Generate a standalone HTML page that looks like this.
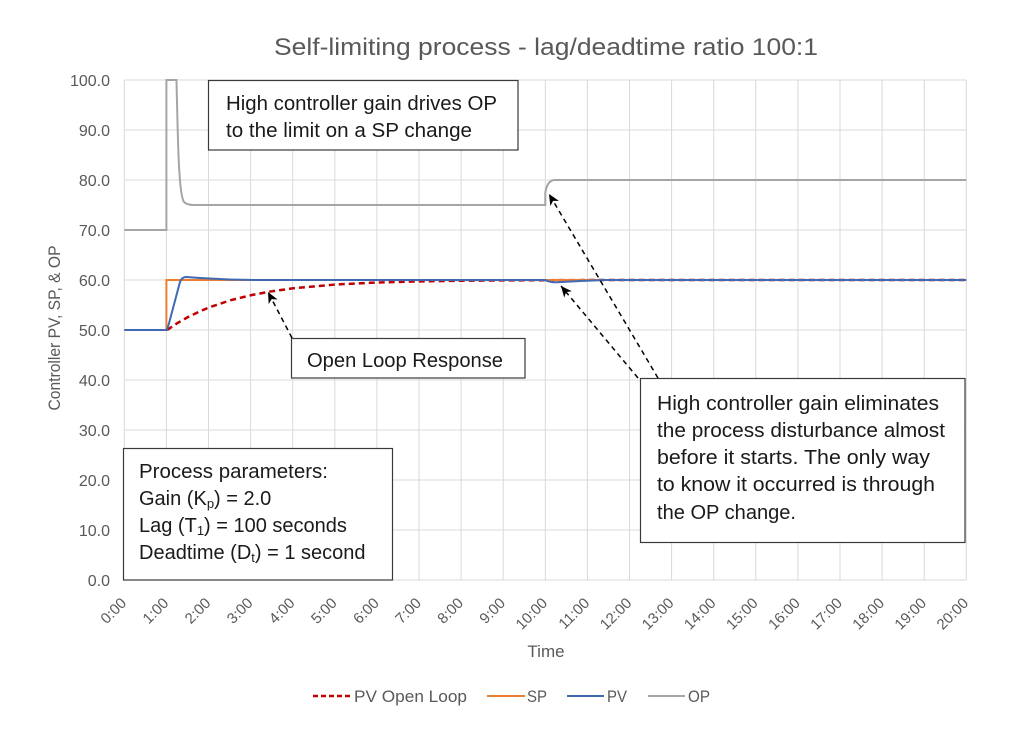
<!DOCTYPE html>
<html><head><meta charset="utf-8"><style>
html,body{margin:0;padding:0;background:#fff;}
svg{display:block;}
text{font-family:"Liberation Sans",sans-serif;}
</style></head><body>
<svg width="1024" height="731" viewBox="0 0 1024 731" xmlns="http://www.w3.org/2000/svg">
<defs>
<marker id="ah" markerUnits="userSpaceOnUse" markerWidth="12" markerHeight="10" refX="11" refY="5" orient="auto">
<path d="M0,0 L11,5 L0,10 L3,5 z" fill="#000"/>
</marker>
</defs>
<rect width="1024" height="731" fill="#fff"/>
<text x="546" y="55" font-size="24" fill="#595959" text-anchor="middle" textLength="544" lengthAdjust="spacingAndGlyphs">Self-limiting process - lag/deadtime ratio 100:1</text>

<g stroke="#d9d9d9" stroke-width="1">
<line x1="124.3" y1="80" x2="966.3" y2="80"/>
<line x1="124.3" y1="130" x2="966.3" y2="130"/>
<line x1="124.3" y1="180" x2="966.3" y2="180"/>
<line x1="124.3" y1="230" x2="966.3" y2="230"/>
<line x1="124.3" y1="280" x2="966.3" y2="280"/>
<line x1="124.3" y1="330" x2="966.3" y2="330"/>
<line x1="124.3" y1="380" x2="966.3" y2="380"/>
<line x1="124.3" y1="430" x2="966.3" y2="430"/>
<line x1="124.3" y1="480" x2="966.3" y2="480"/>
<line x1="124.3" y1="530" x2="966.3" y2="530"/>
<line x1="124.3" y1="580" x2="966.3" y2="580"/>
<line x1="124.3" y1="80" x2="124.3" y2="580"/>
<line x1="166.4" y1="80" x2="166.4" y2="580"/>
<line x1="208.5" y1="80" x2="208.5" y2="580"/>
<line x1="250.6" y1="80" x2="250.6" y2="580"/>
<line x1="292.7" y1="80" x2="292.7" y2="580"/>
<line x1="334.8" y1="80" x2="334.8" y2="580"/>
<line x1="376.9" y1="80" x2="376.9" y2="580"/>
<line x1="419" y1="80" x2="419" y2="580"/>
<line x1="461.1" y1="80" x2="461.1" y2="580"/>
<line x1="503.2" y1="80" x2="503.2" y2="580"/>
<line x1="545.3" y1="80" x2="545.3" y2="580"/>
<line x1="587.4" y1="80" x2="587.4" y2="580"/>
<line x1="629.5" y1="80" x2="629.5" y2="580"/>
<line x1="671.6" y1="80" x2="671.6" y2="580"/>
<line x1="713.7" y1="80" x2="713.7" y2="580"/>
<line x1="755.8" y1="80" x2="755.8" y2="580"/>
<line x1="797.9" y1="80" x2="797.9" y2="580"/>
<line x1="840" y1="80" x2="840" y2="580"/>
<line x1="882.1" y1="80" x2="882.1" y2="580"/>
<line x1="924.2" y1="80" x2="924.2" y2="580"/>
<line x1="966.3" y1="80" x2="966.3" y2="580"/>
</g>

<g font-size="16" fill="#595959" text-anchor="end">
<text x="110" y="86">100.0</text>
<text x="110" y="136">90.0</text>
<text x="110" y="186">80.0</text>
<text x="110" y="236">70.0</text>
<text x="110" y="286">60.0</text>
<text x="110" y="336">50.0</text>
<text x="110" y="386">40.0</text>
<text x="110" y="436">30.0</text>
<text x="110" y="486">20.0</text>
<text x="110" y="536">10.0</text>
<text x="110" y="586">0.0</text>
</g>

<g font-size="15" fill="#595959" text-anchor="end">
<text transform="translate(127.3,604) rotate(-45)">0:00</text>
<text transform="translate(169.4,604) rotate(-45)">1:00</text>
<text transform="translate(211.5,604) rotate(-45)">2:00</text>
<text transform="translate(253.6,604) rotate(-45)">3:00</text>
<text transform="translate(295.7,604) rotate(-45)">4:00</text>
<text transform="translate(337.8,604) rotate(-45)">5:00</text>
<text transform="translate(379.9,604) rotate(-45)">6:00</text>
<text transform="translate(422,604) rotate(-45)">7:00</text>
<text transform="translate(464.1,604) rotate(-45)">8:00</text>
<text transform="translate(506.2,604) rotate(-45)">9:00</text>
<text transform="translate(548.3,604) rotate(-45)">10:00</text>
<text transform="translate(590.4,604) rotate(-45)">11:00</text>
<text transform="translate(632.5,604) rotate(-45)">12:00</text>
<text transform="translate(674.6,604) rotate(-45)">13:00</text>
<text transform="translate(716.7,604) rotate(-45)">14:00</text>
<text transform="translate(758.8,604) rotate(-45)">15:00</text>
<text transform="translate(800.9,604) rotate(-45)">16:00</text>
<text transform="translate(843,604) rotate(-45)">17:00</text>
<text transform="translate(885.1,604) rotate(-45)">18:00</text>
<text transform="translate(927.2,604) rotate(-45)">19:00</text>
<text transform="translate(969.3,604) rotate(-45)">20:00</text>
</g>

<text x="546" y="657" font-size="17" fill="#595959" text-anchor="middle">Time</text>
<text transform="translate(60,328) rotate(-90)" font-size="17" fill="#595959" text-anchor="middle" textLength="165" lengthAdjust="spacingAndGlyphs">Controller PV, SP, &amp; OP</text>

<!-- series -->
<path d="M167.1,330 L177.6,323 L188.1,317 L198.7,311.9 L209.2,307.4 L230.3,300.3 L251.3,295.1 L272.4,291.2 L293.4,288.3 L335.5,284.5 L377.6,282.5 L419.7,281.4 L461.8,280.7 L503.9,280.4 L546,280.2 L600,280 L966,280" fill="none" stroke="#C00000" stroke-width="2.5" stroke-dasharray="6,4"/>
<path d="M124.3,330 L166.4,330 L166.4,280 L966.3,280" fill="none" stroke="#ED7D31" stroke-width="2"/>
<path d="M124.3,330 L166.4,330 L168,327 L180,282 Q182,277 186,277 L200,278 Q230,280 260,280 L545,280 Q550,282.5 557,282.2 Q580,281 605,280 L966.3,280" fill="none" stroke="#3F69B0" stroke-width="2"/>
<path d="M124.3,230 L166.4,230 L166.4,80 L176.5,80 C178,150 179,195 184,202 Q187,205 194,205 L545.3,205 L545.3,193 Q547,181 554,180 L966.3,180" fill="none" stroke="#A5A5A5" stroke-width="2"/>

<!-- arrows -->
<g stroke="#000" stroke-width="1.5" stroke-dasharray="5,4" fill="none">
<line x1="292" y1="338" x2="268" y2="292" marker-end="url(#ah)"/>
<line x1="658" y1="378" x2="549" y2="194" marker-end="url(#ah)"/>
<line x1="638" y1="378" x2="561" y2="286" marker-end="url(#ah)"/>
</g>

<!-- annotation boxes -->
<g fill="#fff" stroke="#3a3a3a" stroke-width="1.2">
<rect x="208.5" y="80.5" width="309.5" height="69.5"/>
<rect x="291.5" y="338.5" width="233.5" height="39.5"/>
<rect x="640.5" y="378.5" width="324.5" height="164"/>
<rect x="123.5" y="448.5" width="269" height="131.5"/>
</g>

<g font-size="20" fill="#1a1a1a">
<text x="226" y="110" textLength="271" lengthAdjust="spacingAndGlyphs">High controller gain drives OP</text>
<text x="226" y="137" textLength="246" lengthAdjust="spacingAndGlyphs">to the limit on a SP change</text>
<text x="307" y="367" textLength="196" lengthAdjust="spacingAndGlyphs">Open Loop Response</text>
<text x="657" y="410" textLength="282" lengthAdjust="spacingAndGlyphs">High controller gain eliminates</text>
<text x="657" y="437" textLength="288" lengthAdjust="spacingAndGlyphs">the process disturbance almost</text>
<text x="657" y="464" textLength="273" lengthAdjust="spacingAndGlyphs">before it starts.  The only way</text>
<text x="657" y="491" textLength="278" lengthAdjust="spacingAndGlyphs">to know it occurred is through</text>
<text x="657" y="519" textLength="139" lengthAdjust="spacingAndGlyphs">the OP change.</text>
<text x="139" y="478" textLength="189" lengthAdjust="spacingAndGlyphs">Process parameters:</text>
<text x="139" y="505">Gain (K<tspan font-size="13" dy="3">p</tspan><tspan dy="-3">) = 2.0</tspan></text>
<text x="139" y="532">Lag (T<tspan font-size="13" dy="3">1</tspan><tspan dy="-3">) = 100 seconds</tspan></text>
<text x="139" y="559">Deadtime (D<tspan font-size="13" dy="3">t</tspan><tspan dy="-3">) = 1 second</tspan></text>
</g>

<!-- legend -->
<line x1="313" y1="696" x2="351" y2="696" stroke="#C00000" stroke-width="2.5" stroke-dasharray="5,3"/>
<text x="354" y="702" font-size="17" fill="#595959" textLength="113" lengthAdjust="spacingAndGlyphs">PV Open Loop</text>
<line x1="487" y1="696" x2="525" y2="696" stroke="#ED7D31" stroke-width="2"/>
<text x="527" y="702" font-size="17" fill="#595959" textLength="20" lengthAdjust="spacingAndGlyphs">SP</text>
<line x1="567" y1="696" x2="604" y2="696" stroke="#3F69B0" stroke-width="2"/>
<text x="607" y="702" font-size="17" fill="#595959" textLength="20" lengthAdjust="spacingAndGlyphs">PV</text>
<line x1="648" y1="696" x2="685" y2="696" stroke="#A5A5A5" stroke-width="2"/>
<text x="688" y="702" font-size="17" fill="#595959" textLength="22" lengthAdjust="spacingAndGlyphs">OP</text>
</svg>
</body></html>
